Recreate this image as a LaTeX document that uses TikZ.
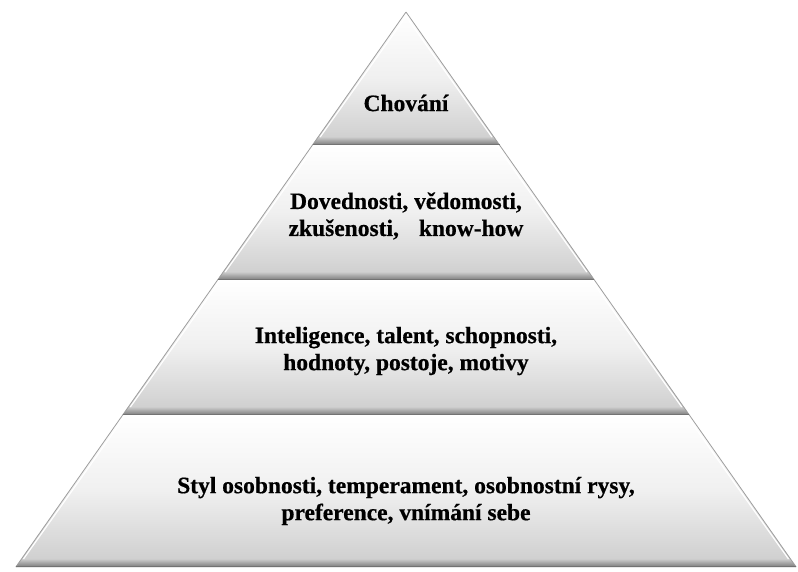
\documentclass[tikz,border=0pt]{standalone}
\usepackage{fontspec}
\setmainfont{Liberation Serif}[BoldFeatures={FakeBold=0.6}]
\begin{document}
\begin{tikzpicture}[x=1pt,y=-1pt,
  band/.style={top color=white,bottom color=black!20,middle color=black!6},
  bevel/.style={top color=black!20,bottom color=black!52},
  rim/.style={draw=black!38,line width=0.8pt},
  gloss/.style={draw=white,line width=1.2pt},
  lbl/.style={font=\bfseries\fontsize{23.5}{27}\selectfont,align=center,inner sep=0pt}]
\useasboundingbox (0,0) rectangle (798,571);
% pyramid layers: top edge / bottom edge (y), apex at (406,12)
\foreach \t/\b in {12/145,145/280,280/415,415/567}{
  \pgfmathsetmacro\tl{406-0.703*(\t-12)}
  \pgfmathsetmacro\tr{406+0.703*(\t-12)}
  \pgfmathsetmacro\bl{406-0.703*(\b-12)}
  \pgfmathsetmacro\br{406+0.703*(\b-12)}
  \pgfmathsetmacro\m{\b-8}
  \pgfmathsetmacro\ml{406-0.703*(\m-12)}
  \pgfmathsetmacro\mr{406+0.703*(\m-12)}
  % body of the layer
  \shade[band] (\tl,\t) -- (\tr,\t) -- (\br,\b) -- (\bl,\b) -- cycle;
  % darker bevel along the lower edge
  \shade[bevel] (\ml,\m) -- (\mr,\m) -- (\br,\b) -- (\bl,\b) -- cycle;
  % slanted edges with a light inner highlight
  \draw[gloss] (\tl+2.5,\t+1) -- (\ml+2,\m);
  \draw[gloss] (\tr-2.5,\t+1) -- (\mr-2,\m);
  \draw[rim] (\tl,\t) -- (\bl,\b);
  \draw[rim] (\tr,\t) -- (\br,\b);
  \draw[draw=black!55,line width=1pt] (\bl,\b-0.5) -- (\br,\b-0.5);
}
\node[lbl] (chovani) at (406,103) {Chování};
\node[lbl] (dovednosti) at (406,216) {Dovednosti, vědomosti,\\zkušenosti,\hspace{0.6em} know-how};
\node[lbl] (inteligence) at (406,351) {Inteligence, talent, schopnosti,\\hodnoty, postoje, motivy};
\node[lbl] (styl) at (406,501) {Styl osobnosti, temperament, osobnostní rysy,\\preference, vnímání sebe};
\end{tikzpicture}
\end{document}
